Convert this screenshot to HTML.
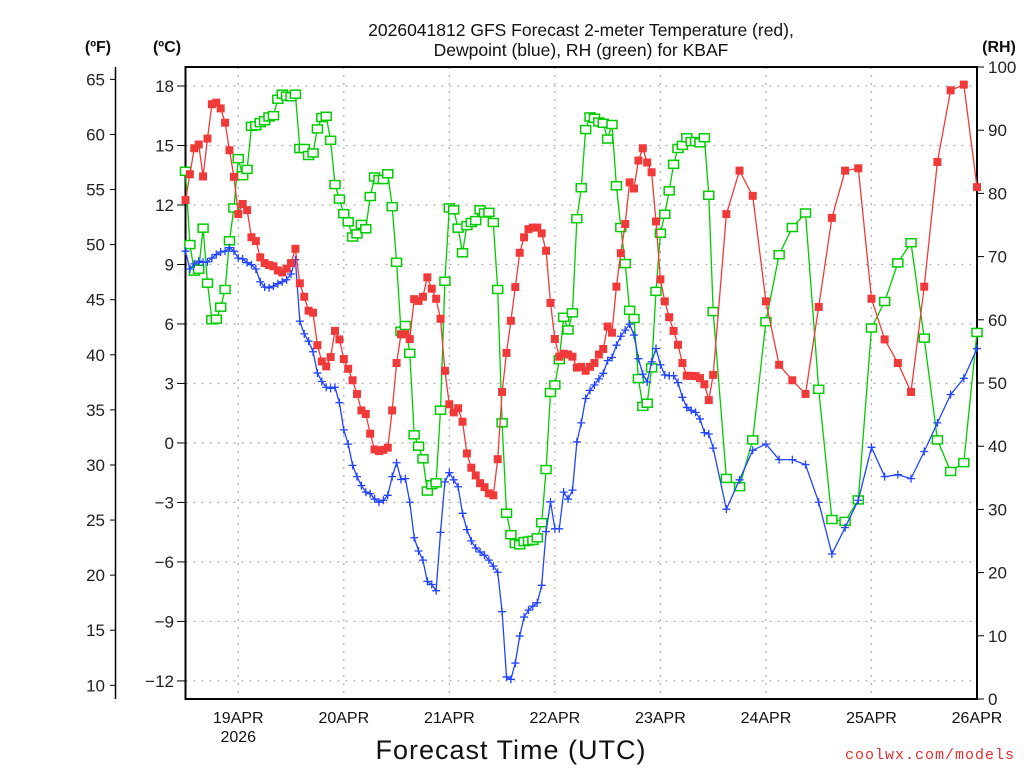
<!DOCTYPE html>
<html><head><meta charset="utf-8"><style>
html,body{margin:0;padding:0;background:#fff;}
svg{display:block;font-family:"Liberation Sans",sans-serif;}
</style></head><body>
<svg id="chart" width="1024" height="768" viewBox="0 0 1024 768" xmlns="http://www.w3.org/2000/svg">
<rect x="0" y="0" width="1024" height="768" fill="#fff"/>
<g id="grid"></g>
<g id="axes"></g>
<g id="series"></g>
<text x="581" y="36" font-size="17.5" text-anchor="middle" fill="#111">2026041812 GFS Forecast 2-meter Temperature (red),</text>
<text x="581" y="56" font-size="17.5" text-anchor="middle" fill="#111">Dewpoint (blue), RH (green) for KBAF</text>
<text x="98" y="52" font-size="16" font-weight="bold" text-anchor="middle" fill="#111">(ºF)</text>
<text x="167" y="52" font-size="16" font-weight="bold" text-anchor="middle" fill="#111">(ºC)</text>
<text x="999" y="52" font-size="16" font-weight="bold" text-anchor="middle" fill="#111">(RH)</text>
<text x="511" y="759" font-size="27" text-anchor="middle" fill="#111" letter-spacing="1">Forecast Time (UTC)</text>
<text x="1015" y="759" font-size="15" font-family="Liberation Mono, monospace" text-anchor="end" fill="#e03030" letter-spacing="1">coolwx.com/models</text>
</svg>
<script>
const tempC = [12.25,13.55,14.86,15.05,13.44,15.35,17.08,17.16,16.87,16.15,14.76,13.42,11.54,12.05,11.74,10.37,10.18,9.36,9.07,8.97,8.91,8.70,8.60,8.79,9.07,9.79,8.05,7.37,6.67,6.57,4.93,
4.11,3.86,4.33,5.65,5.22,4.23,3.74,3.16,2.47,1.64,1.46,0.47,-0.33,-0.41,-0.35,-0.24,1.64,4.03,5.48,5.48,5.24,7.25,7.16,7.37,8.35,7.78,7.27,6.26,3.64,1.95,
1.54,1.75,1.07,-0.53,-1.25,-1.64,-2.03,-2.23,-2.54,-2.64,-0.82,2.57,4.54,6.16,7.86,9.59,10.37,10.78,10.86,10.86,10.57,9.69,7.06,5.24,4.35,4.50,4.46,4.35,3.80,3.84,
3.64,3.84,4.03,4.46,4.74,5.87,5.56,7.88,9.57,11.04,13.14,12.83,14.24,14.86,14.14,13.65,11.17,8.25,7.14,6.34,5.65,4.95,4.03,3.39,3.38,3.37,3.27,2.96,2.16,3.43,
11.54,13.73,12.46,7.14,3.94,3.16,2.47,6.86,11.35,13.73,13.85,7.27,5.22,4.03,2.57,7.88,14.17,17.78,18.07,12.90];
const dewC = [9.67,8.77,9.03,9.17,9.11,9.13,9.32,9.50,9.63,9.67,9.85,9.67,9.32,9.28,9.09,8.99,8.77,8.13,7.86,7.82,7.90,8.03,8.13,8.23,8.52,9.24,6.14,5.50,5.13,4.60,3.53,
3.10,2.81,2.75,2.81,2.03,0.66,-0.06,-1.13,-1.70,-2.15,-2.48,-2.56,-2.83,-2.99,-2.89,-2.64,-1.70,-1.00,-1.84,-1.80,-2.99,-4.78,-5.45,-5.91,-6.98,-7.14,-7.45,-4.51,-1.97,-1.50,
-1.86,-2.21,-3.55,-4.37,-4.94,-5.29,-5.50,-5.66,-5.91,-6.21,-6.52,-8.51,-11.80,-11.92,-11.10,-9.74,-8.78,-8.43,-8.23,-8.06,-7.18,-4.47,-2.97,-4.33,-4.33,-2.48,-2.83,-2.38,0.05,1.01,
2.24,2.65,2.92,3.23,3.51,4.15,4.31,4.93,5.38,5.69,5.99,5.44,4.25,3.47,3.08,4.09,4.76,3.94,3.43,3.39,3.39,3.04,2.30,1.79,1.64,1.54,1.21,0.52,0.45,-0.26,
-3.34,-1.86,-0.37,-0.06,-0.84,-0.84,-1.09,-2.99,-5.60,-4.27,-2.89,-0.22,-1.70,-1.60,-1.80,-0.43,1.01,2.44,3.26,4.76];
const rhPct = [83.5,71.9,67.7,68.0,74.5,65.8,60.0,60.1,62.0,64.8,72.5,77.7,85.5,82.8,83.8,90.6,90.7,91.2,91.5,92.1,92.3,94.9,95.7,95.4,95.3,95.7,87.1,87.1,86.0,86.4,90.2,
92.0,92.2,88.4,81.4,79.1,76.8,75.5,73.1,73.6,75.1,74.4,79.5,82.6,82.2,82.2,83.1,77.9,69.1,58.2,59.1,54.7,41.8,40.0,38.0,32.9,33.9,34.2,45.7,66.1,77.7,77.4,
74.5,70.6,74.9,75.4,75.7,77.4,76.9,77.0,75.4,64.8,43.7,29.4,26.0,24.6,24.4,24.9,25.0,25.1,25.5,27.9,36.3,48.5,49.7,53.7,60.4,58.4,61.1,76.0,80.9,90.1,92.1,
91.9,91.3,91.1,88.6,90.9,81.2,74.6,68.9,61.5,60.2,50.7,46.3,46.8,52.4,64.5,73.7,76.7,80.4,84.6,87.1,87.6,88.8,88.2,88.2,88.0,88.8,79.7,61.3,
34.9,33.6,41.0,59.7,70.3,74.6,76.9,49.0,28.4,28.1,31.5,58.7,62.9,69.0,72.2,57.1,41.0,36.0,37.4,58.0];
const dayLabels = ["19APR","20APR","21APR","22APR","23APR","24APR","25APR","26APR"];
const cTicks = [18,15,12,9,6,3,0,-3,-6,-9,-12];
const fTicks = [65,60,55,50,45,40,35,30,25,20,15,10];
const rhTicks = [100,90,80,70,60,50,40,30,20,10,0];

// forecast hours: hourly 0..120, then 3-hourly to 180
const hours = [];
for (let h = 0; h <= 120; h++) hours.push(h);
for (let h = 123; h <= 180; h += 3) hours.push(h);

const L = 185.5, R = 977, T = 67, B = 699;
const xOf = h => L + h * (R - L) / 180;
const yC = c => 86 + (18 - c) * 19.83;
const yF = f => yC((f - 32) * 5 / 9);
const yRH = r => B - r * (B - T) / 100;

const NS = "http://www.w3.org/2000/svg";
function mk(tag, attrs, parent) {
  const e = document.createElementNS(NS, tag);
  for (const k in attrs) e.setAttribute(k, attrs[k]);
  parent.appendChild(e);
  return e;
}
const grid = document.getElementById('grid');
const axes = document.getElementById('axes');
const series = document.getElementById('series');

// grid
cTicks.forEach(c => {
  const ln = mk('line', {x1: L, x2: R, y1: yC(c), y2: yC(c), stroke: '#b0b0b0', 'stroke-width': 1.3, 'stroke-dasharray': '2,6'}, grid);
  
  
});
dayLabels.forEach((d, i) => {
  const x = xOf(12 + 24 * i);
  if (i < dayLabels.length - 1) {
    const ln = mk('line', {x1: x, x2: x, y1: T, y2: B, stroke: '#b0b0b0', 'stroke-width': 1.3, 'stroke-dasharray': '2,6'}, grid);
    
    
  }
  const t = mk('text', {x: x, y: 723, 'font-size': 16, 'text-anchor': 'middle', fill: '#111'}, axes);
  t.textContent = d;
  
  
});
const yr = mk('text', {x: xOf(12), y: 742, 'font-size': 16, 'text-anchor': 'middle', fill: '#111'}, axes);
yr.textContent = '2026';



// frame
const fr = mk('rect', {x: L, y: T, width: R - L, height: B - T, fill: 'none', stroke: '#000', 'stroke-width': 2}, axes);



// C axis
cTicks.forEach(c => {
  const tk = mk('line', {x1: 177, x2: L, y1: yC(c), y2: yC(c), stroke: '#000', 'stroke-width': 1}, axes);
  
  
  const t = mk('text', {x: 174, y: yC(c) + 6, 'font-size': 17, 'text-anchor': 'end', fill: '#222'}, axes);
  t.textContent = c < 0 ? '\u2212' + Math.abs(c) : String(c);
  
  
});
// F axis
const fl = mk('line', {x1: 115.5, x2: 115.5, y1: T, y2: B, stroke: '#000', 'stroke-width': 1.5}, axes);


fTicks.forEach(f => {
  const tk = mk('line', {x1: 110, x2: 116, y1: yF(f), y2: yF(f), stroke: '#000', 'stroke-width': 1}, axes);
  
  
  const t = mk('text', {x: 105, y: yF(f) + 6, 'font-size': 17, 'text-anchor': 'end', fill: '#222'}, axes);
  t.textContent = String(f);
  
  
});
// RH axis
rhTicks.forEach(r => {
  const tk = mk('line', {x1: R, x2: R + 7, y1: yRH(r), y2: yRH(r), stroke: '#000', 'stroke-width': 1}, axes);
  
  
  const t = mk('text', {x: 988, y: yRH(r) + 6, 'font-size': 17, 'text-anchor': 'start', fill: '#222'}, axes);
  t.textContent = String(r);
  
  
});

function drawLine(vals, yfn, color, name) {
  const pts = vals.map((v, i) => xOf(hours[i]).toFixed(1) + ',' + yfn(v).toFixed(1)).join(' ');
  const pl = mk('polyline', {points: pts, fill: 'none', stroke: color, 'stroke-width': 1.3}, series);
  
  
}
// RH (green open squares)
drawLine(rhPct, yRH, '#00cc00', 'rh-line');
rhPct.forEach((v, i) => {
  const m = mk('rect', {x: xOf(hours[i]) - 5, y: yRH(v) - 4, width: 10, height: 8, fill: '#fff', stroke: '#00cc00', 'stroke-width': 1.5}, series);
  
  
});
// Dewpoint (blue plus)
drawLine(dewC, yC, '#2244ff', 'dewpoint-line');
dewC.forEach((v, i) => {
  const x = xOf(hours[i]), y = yC(v);
  const m = mk('path', {d: `M${x - 4},${y}H${x + 4}M${x},${y - 4}V${y + 4}`, stroke: '#2244ff', 'stroke-width': 1.3, fill: 'none'}, series);
  
  
});
// Temperature (red filled squares)
drawLine(tempC, yC, '#f03a3a', 'temperature-line');
tempC.forEach((v, i) => {
  const m = mk('rect', {x: xOf(hours[i]) - 4, y: yC(v) - 4, width: 8, height: 8, fill: '#f03a3a'}, series);
  
  
});
</script>
</body></html>
